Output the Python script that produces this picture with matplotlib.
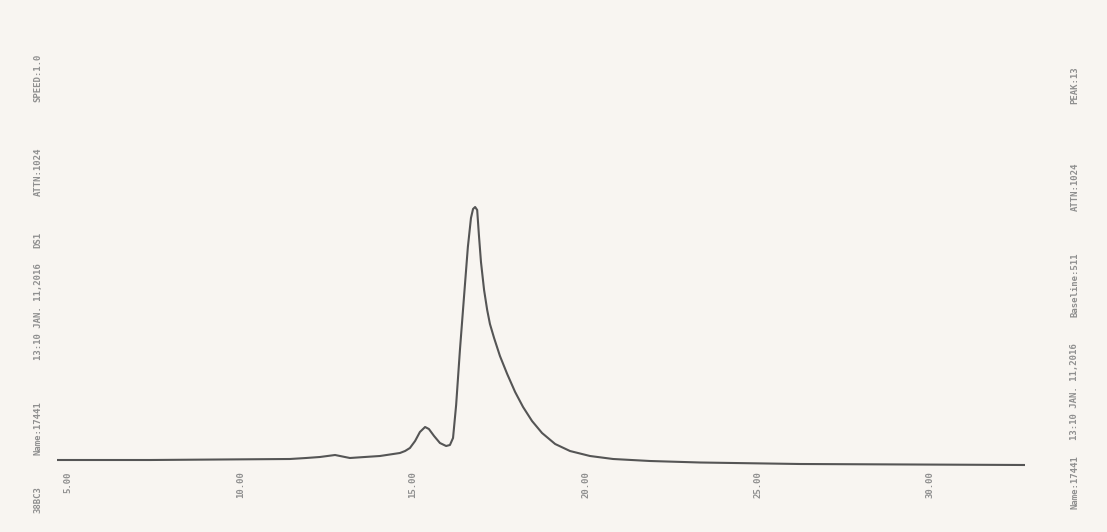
import numpy as np
import matplotlib
matplotlib.use("Agg")
import matplotlib.pyplot as plt

# retention time (min) and detector signal
time = [4.68, 7.38, 11.43, 11.90, 12.30, 12.74, 13.17, 13.60, 14.04, 14.62,
        14.77, 14.91, 15.06, 15.20, 15.35, 15.46, 15.61, 15.78, 15.96, 16.07,
        16.16, 16.25, 16.36, 16.48, 16.59, 16.68, 16.74, 16.80, 16.86, 16.91,
        16.97, 17.06, 17.15, 17.23, 17.35, 17.52, 17.73, 17.96, 18.19, 18.45,
        18.74, 19.12, 19.55, 20.13, 20.80, 21.87, 23.32, 26.22, 32.74]
signal = [0, 0, 1, 2, 3, 5, 2, 3, 4, 7,
          9, 12, 19, 28, 33, 31, 24, 17, 14, 15,
          22, 55, 110, 164, 213, 242, 251, 253, 250, 225,
          198, 170, 150, 136, 122, 104, 86, 68, 53, 39,
          27, 16, 9, 4, 1, -1, -2.5, -4, -5]

tick_pos = [5, 10, 15, 20, 25, 30]
tick_labels = ["5.00", "10.00", "15.00", "20.00", "25.00", "30.00"]

left_notes = ["SPEED:1.0", "ATTN:1024", "DS1", "13:10 JAN. 11,2016", "Name:17441"]
left_note_y = [78, 172, 240, 312, 428]
right_notes = ["PEAK:13", "ATTN:1024", "Baseline:511", "13:10 JAN. 11,2016", "Name:17441"]
right_note_y = [85, 187, 285, 392, 482]

paper = "#f8f5f1"
ink = "#555555"
txt = "#8f8f8f"
fs = 6.5

fig = plt.figure(figsize=(11.07, 5.32), dpi=100, facecolor=paper)
ax = fig.add_axes([57 / 1107, 62 / 532, 968 / 1107, 450 / 532])
ax.set_facecolor(paper)

ax.plot(time, signal, color=ink, lw=1.5, solid_joinstyle="round")

ax.set_xlim(4.68, 32.74)
ax.set_ylim(-10, 440)
for s in ax.spines.values():
    s.set_visible(False)
ax.set_yticks([])
ax.set_xticks(tick_pos)
ax.set_xticklabels(tick_labels, rotation=90, fontsize=fs, color=txt,
                   family="DejaVu Sans Mono", fontweight="bold")
ax.tick_params(axis="x", length=0, pad=1)

for s, y in zip(left_notes, left_note_y):
    fig.text(38 / 1107, 1 - y / 532, s, rotation=90, ha="center", va="center",
             fontsize=fs, color=txt, family="DejaVu Sans Mono", fontweight="bold")
fig.text(38 / 1107, 1 - 500 / 532, "38BC3", rotation=90, ha="center",
         va="center", fontsize=fs, color=txt, family="DejaVu Sans Mono",
         fontweight="bold")

for s, y in zip(right_notes, right_note_y):
    fig.text(1075 / 1107, 1 - y / 532, s, rotation=90, ha="center", va="center",
             fontsize=fs, color=txt, family="DejaVu Sans Mono", fontweight="bold")

fig.savefig("out.png", dpi=100, facecolor=paper)
